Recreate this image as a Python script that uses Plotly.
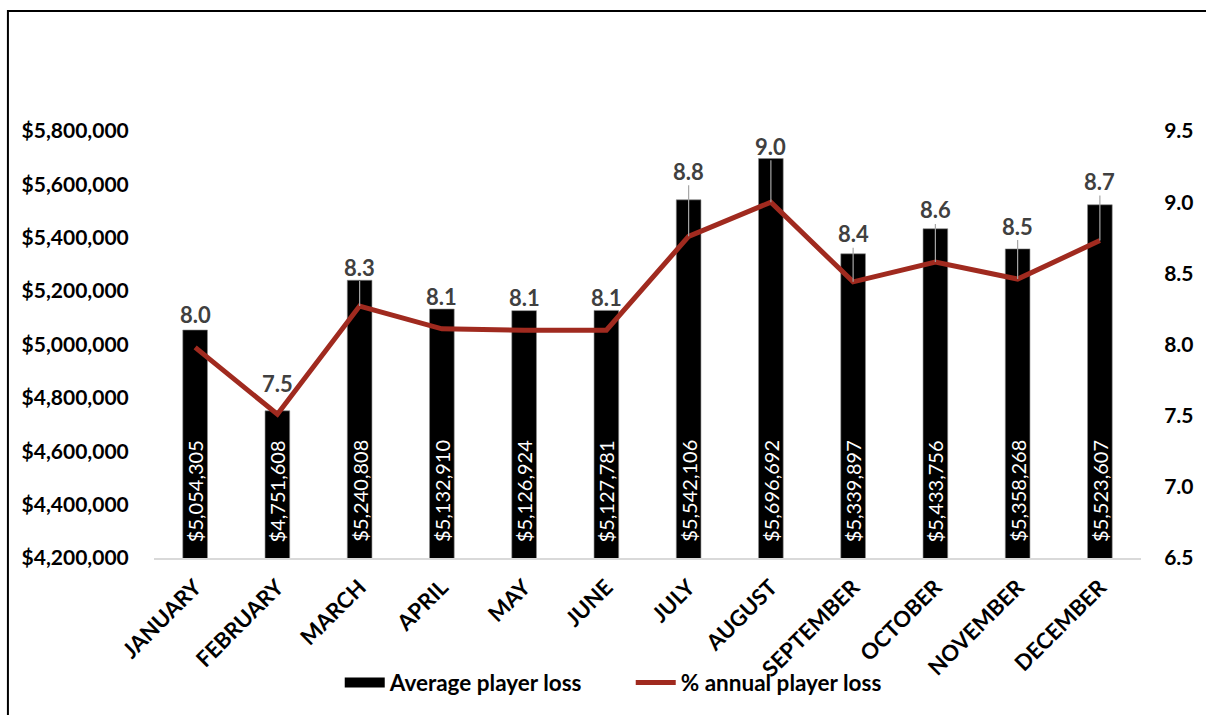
import plotly.graph_objects as go

# Monthly data
months = ["JANUARY", "FEBRUARY", "MARCH", "APRIL", "MAY", "JUNE",
          "JULY", "AUGUST", "SEPTEMBER", "OCTOBER", "NOVEMBER", "DECEMBER"]
avg_loss = [5054305, 4751608, 5240808, 5132910, 5126924, 5127781,
            5542106, 5696692, 5339897, 5433756, 5358268, 5523607]
pct_loss = [7.98, 7.51, 8.27, 8.11, 8.10, 8.10,
            8.76, 9.00, 8.44, 8.58, 8.46, 8.73]

# Vertical pixel offsets of the percentage labels above their points
label_offsets = [-33, -31, -39, -32, -33, -33, -65, -56, -48, -52, -53, -59]

left_ticks = [4200000, 4400000, 4600000, 4800000, 5000000,
              5200000, 5400000, 5600000, 5800000]
right_ticks = [6.5, 7.0, 7.5, 8.0, 8.5, 9.0, 9.5]

FONT = "Lato"
LINE_RED = "#A02A1F"
Y_MIN, Y_MAX = left_ticks[0], left_ticks[-1]

fig = go.Figure()

fig.add_trace(go.Bar(
    x=months, y=avg_loss, name="Average player loss",
    marker=dict(color="#000000", line=dict(color="#8c8c8c", width=0.6)),
    yaxis="y", hoverinfo="skip", showlegend=False,
))

fig.add_trace(go.Scatter(
    x=months, y=pct_loss, name="% annual player loss",
    mode="lines", line=dict(color=LINE_RED, width=5),
    yaxis="y2", hoverinfo="skip", showlegend=False,
))

# Legend entries (wide black key for the bars, red line for the percentage)
fig.add_trace(go.Scatter(
    x=[None], y=[None], name="Average player loss", mode="lines",
    line=dict(color="#000000", width=13), hoverinfo="skip",
))
fig.add_trace(go.Scatter(
    x=[None], y=[None], name="% annual player loss", mode="lines",
    line=dict(color=LINE_RED, width=5), yaxis="y2", hoverinfo="skip",
))

# Dollar values written upward inside the base of each bar
for m, v in zip(months, avg_loss):
    fig.add_annotation(
        x=m, y=Y_MIN, xref="x", yref="y", text=f"${v:,.0f}",
        textangle=-90, showarrow=False, yanchor="bottom", yshift=14,
        font=dict(family=FONT, size=20, color="#ffffff"),
    )

# Percentage labels, with leader lines where the label sits far from its point
for m, v, off in zip(months, pct_loss, label_offsets):
    far = abs(off) > 36
    ann = dict(
        x=m, y=v, xref="x", yref="y2", text=f"{v:.1f}",
        font=dict(family=FONT, size=22, color="#404040", weight="bold"),
    )
    if far:
        ann.update(showarrow=True, arrowhead=0, arrowwidth=1.2,
                   arrowcolor="#a6a6a6", ax=0, ay=off, borderpad=0)
    else:
        ann.update(showarrow=False, yshift=-off, yanchor="middle")
    fig.add_annotation(**ann)

# Outer chart frame
fig.add_shape(type="rect", xref="paper", yref="paper",
              x0=-0.148, x1=1.08, y0=-0.40, y1=1.281,
              line=dict(color="#000000", width=2), layer="above")

fig.update_layout(
    width=1206, height=715,
    margin=dict(l=154, r=65, t=131, b=157, autoexpand=False),
    paper_bgcolor="#ffffff", plot_bgcolor="#ffffff",
    bargap=0.7,
    font=dict(family=FONT, color="#000000"),
    xaxis=dict(
        tickangle=-45, showgrid=False, showline=True, linecolor="#d9d9d9",
        linewidth=1.5, ticks="outside", ticklen=6, tickcolor="rgba(0,0,0,0)",
        automargin=False,
        tickfont=dict(family=FONT, size=22, color="#000000", weight="bold"),
    ),
    yaxis=dict(
        range=[Y_MIN, Y_MAX], tickvals=left_ticks, tickformat="$,.0f",
        showgrid=False, zeroline=False, showline=False, automargin=False,
        ticks="outside", ticklen=20, tickcolor="rgba(0,0,0,0)",
        tickfont=dict(family=FONT, size=21, color="#000000", weight="bold"),
    ),
    yaxis2=dict(
        range=[6.5, 9.5], tickvals=right_ticks, tickformat=".1f",
        overlaying="y", side="right", automargin=False,
        showgrid=False, zeroline=False, showline=False,
        ticks="outside", ticklen=18, tickcolor="rgba(0,0,0,0)",
        tickfont=dict(family=FONT, size=21, color="#000000", weight="bold"),
    ),
    legend=dict(
        orientation="h", xref="container", yref="container",
        x=0.523, xanchor="center", y=0.045, yanchor="middle",
        font=dict(family=FONT, size=22.5, color="#000000", weight="bold"),
        itemwidth=40, entrywidth=236, bgcolor="rgba(0,0,0,0)",
    ),
    showlegend=True,
)

fig.write_html("out.html")
